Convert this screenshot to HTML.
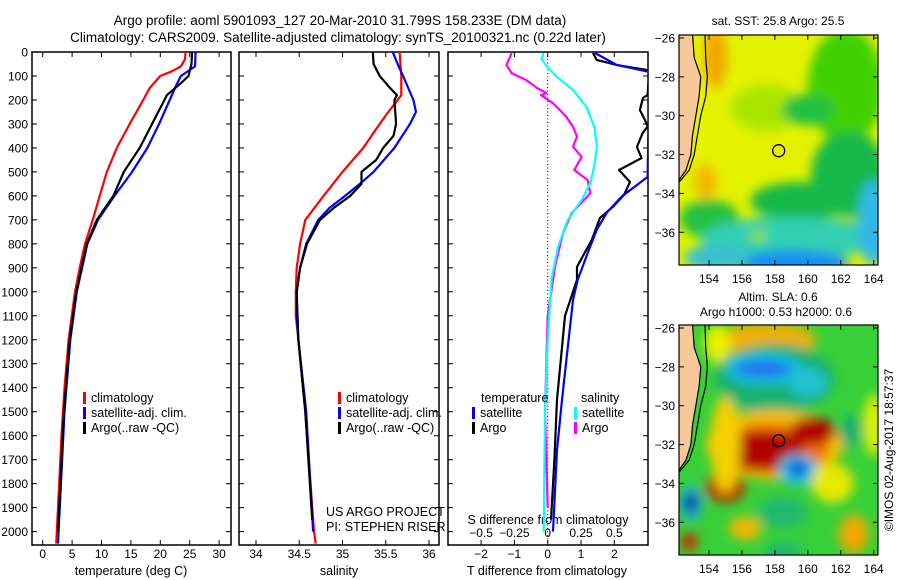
<!DOCTYPE html>
<html><head><meta charset="utf-8"><style>
html,body{margin:0;padding:0;background:#fff}
svg{display:block;font-family:"Liberation Sans",sans-serif}
text{fill:#000}
</style></head><body>
<svg id="fig" width="900" height="580" viewBox="0 0 900 580">
<defs>
<filter id="blur" filterUnits="userSpaceOnUse" x="600" y="0" width="300" height="580"><feGaussianBlur stdDeviation="5.5"/></filter>
<clipPath id="clipM1"><rect x="679" y="35" width="199" height="230"/></clipPath>
<clipPath id="clipM2"><rect x="679" y="325" width="199" height="230"/></clipPath>
<clipPath id="clipP1"><rect x="32" y="52" width="199" height="493"/></clipPath>
<clipPath id="clipP2"><rect x="239" y="52" width="200" height="493"/></clipPath>
<clipPath id="clipP3"><rect x="448" y="52" width="200" height="493"/></clipPath>
</defs>
<text x="340" y="25" font-size="13.5" text-anchor="middle">Argo profile: aoml 5901093_127 20-Mar-2010 31.799S 158.233E (DM data)</text>
<text x="338" y="42" font-size="13.5" text-anchor="middle">Climatology: CARS2009. Satellite-adjusted climatology: synTS_20100321.nc (0.22d later)</text>
<g id="g"></g>
</svg>
<script>
// ---- temperature profiles [depth, value]
const tempClimDepth = [0,30,60,80,100,150,200,300,400,500,600,700,800,900,1000,1200,1400,1600,1800,2000,2050];
const tempClimVal   = [24.3,24.2,23.5,22,20,18.2,17.1,14.8,12.6,10.9,9.7,8.5,7.2,6.3,5.5,4.4,3.7,3.2,2.8,2.4,2.3];
const tempSatDepth  = [0,60,100,150,200,300,400,500,600,700,800,1000,1200,1500,2000,2050];
const tempSatVal    = [26,25.9,23.5,22.5,21.6,19.8,17.8,15.2,12.2,9.4,7.6,5.8,4.7,3.7,2.7,2.6];
const tempArgoDepth = [0,50,100,130,180,200,300,400,500,600,700,800,1000,1200,1500,2000];
const tempArgoVal   = [25.4,25.3,24.8,23.5,21.1,20.7,18.6,16.5,13.8,12.0,9.2,7.5,5.7,4.6,3.6,2.6];
// ---- salinity profiles
const salClimDepth = [0,100,180,250,300,400,500,600,700,800,900,1000,1100,1200,1500,2000,2050];
const salClimVal   = [35.66,35.68,35.68,35.53,35.43,35.24,35.0,34.78,34.57,34.51,34.47,34.46,34.46,34.49,34.57,34.67,34.69];
const salSatDepth  = [0,60,100,200,250,300,400,500,550,600,650,700,800,900,1000,1100,1200,1500,2000];
const salSatVal    = [35.58,35.65,35.7,35.82,35.85,35.78,35.6,35.36,35.2,35.03,34.85,34.72,34.58,34.51,34.47,34.47,34.49,34.58,34.66];
const salArgoDepth = [0,50,100,150,180,200,300,350,400,450,500,550,600,650,700,800,900,1000,1200,1500,1950];
const salArgoVal   = [35.35,35.36,35.43,35.55,35.63,35.6,35.62,35.59,35.47,35.39,35.22,35.22,35.09,34.9,34.74,34.59,34.51,34.47,34.49,34.57,34.65];
// ---- differences
const dTSatDepth = [4,54,83,521,603,671,742,838,950,1034,1450,1660,2000];
const dTSatVal   = [1.42,2.07,3.05,3.0,2.22,1.77,1.47,1.2,0.9,0.76,0.43,0.28,0.16];
const dTArgoDepth = [4,33,54,75,80,179,192,242,283,311,338,396,442,492,542,596,645,692,784,896,950,1100,1450,1700,1950];
const dTArgoVal   = [1.36,1.47,2.07,2.97,3.05,3.0,2.86,2.77,2.92,3.0,2.85,2.68,2.82,2.14,2.47,2.29,1.96,1.57,1.32,0.88,0.88,0.52,0.28,0.2,0.1];
const dSSatDepth = [4,30,58,103,158,228,311,395,475,547,617,700,812,943,1200,1500,2000];
const dSSatVal   = [-0.033,-0.045,-0.008,0.068,0.19,0.29,0.35,0.37,0.35,0.32,0.255,0.15,0.078,0.03,0.0,-0.02,-0.03];
const dSArgoDepth = [4,54,88,117,150,171,180,213,270,311,353,395,437,492,534,589,672,755,895,1100,1500,1700,1900];
const dSArgoVal   = [-0.27,-0.31,-0.27,-0.16,-0.08,-0.01,-0.05,0.04,0.14,0.19,0.22,0.19,0.255,0.2,0.3,0.32,0.18,0.115,0.055,0.0,-0.02,-0.01,0.0];
// ---- ticks
const depthTicks = [0,100,200,300,400,500,600,700,800,900,1000,1100,1200,1300,1400,1500,1600,1700,1800,1900,2000];
const tempTicks = [0,5,10,15,20,25,30];
const salTicks = [34,34.5,35,35.5,36];
const salTickLabels = ["34","34.5","35","35.5","36"];
const dTTicks = [-2,-1,0,1,2];
const dSTicks = [-0.5,-0.25,0,0.25,0.5];
const dSTickLabels = ["\u22120.5","\u22120.25","0","0.25","0.5"];
const latTicks = [-26,-28,-30,-32,-34,-36];
const lonTicks = [154,156,158,160,162,164];

const NS="http://www.w3.org/2000/svg";
const G=document.getElementById('g');
function el(tag,attrs,parent,txt){const e=document.createElementNS(NS,tag);for(const k in attrs)e.setAttribute(k,attrs[k]);if(txt!==undefined)e.textContent=txt;(parent||G).appendChild(e);return e;}

const yTop=52,yBot=545;
const yD=d=>52+d*0.2398;
const panels=[
 {x0:32,x1:231,f:v=>42.7+v*5.88,clip:'clipP1',name:'temperature'},
 {x0:239,x1:439,f:v=>256+(v-34)*86.5,clip:'clipP2',name:'salinity'},
 {x0:448,x1:648,f:v=>547.7+v*33.3,clip:'clipP3',name:'difference'}
];
const fS=v=>547.7+v*133.2;

panels.forEach((p,i)=>{
  const fr=el('rect',{x:p.x0,y:yTop,width:p.x1-p.x0,height:yBot-yTop,fill:'none',stroke:'#000','stroke-width':1.5});
  
  
  depthTicks.forEach(d=>{
    const y=yD(d);
    el('line',{x1:p.x0,x2:p.x0+5,y1:y,y2:y,stroke:'#000','stroke-width':1});
    el('line',{x1:p.x1-5,x2:p.x1,y1:y,y2:y,stroke:'#000','stroke-width':1});
    if(i===0){
      const t=el('text',{x:28,y:y+4.5,'font-size':12,'text-anchor':'end'},G,String(d));
      
      
    }
  });
});
function xTicks(p,ticks,labels,f,ly){
  ticks.forEach((v,k)=>{
    const x=f(v);
    el('line',{x1:x,x2:x,y1:yBot,y2:yBot-5,stroke:'#000','stroke-width':1});
    el('line',{x1:x,x2:x,y1:yTop,y2:yTop+5,stroke:'#000','stroke-width':1});
    const t=el('text',{x:x,y:ly,'font-size':12,'text-anchor':'middle'},G,labels[k]);
    
    
  });
}
xTicks(panels[0],tempTicks,tempTicks.map(String),panels[0].f,558);
xTicks(panels[1],salTicks,salTickLabels,panels[1].f,558);
xTicks(panels[2],dTTicks,dTTicks.map(v=>v<0?'\u2212'+(-v):String(v)),panels[2].f,558);
dSTicks.forEach((v,k)=>{
  const t=el('text',{x:fS(v),y:537,'font-size':12,'text-anchor':'middle'},G,dSTickLabels[k]);
  
  
});
[[131,'temperature (deg C)','temperature-axis-title'],[339,'salinity','salinity-axis-title'],[547,'T difference from climatology','t-diff-axis-title']].forEach(a=>{
  const t=el('text',{x:a[0],y:575,'font-size':12.5,'text-anchor':'middle'},G,a[1]);
  
  
});
const sdt=el('text',{x:548,y:524,'font-size':12.5,'text-anchor':'middle'},G,'S difference from climatology');



const zl=el('line',{x1:547.7,x2:547.7,y1:yTop,y2:yBot,stroke:'#000','stroke-width':1,'stroke-dasharray':'1,2.5'});



function series(depths,vals,f,color,clip,name){
  const pts=depths.map((d,k)=>f(vals[k]).toFixed(1)+','+yD(d).toFixed(1)).join(' ');
  const pl=el('polyline',{points:pts,fill:'none',stroke:color,'stroke-width':2.2,'stroke-linejoin':'round','clip-path':'url(#'+clip+')'});
  
  
}
series(tempClimDepth,tempClimVal,panels[0].f,'#ff0000','clipP1','temp-climatology-line');
series(tempSatDepth,tempSatVal,panels[0].f,'#0000ff','clipP1','temp-satellite-line');
series(tempArgoDepth,tempArgoVal,panels[0].f,'#000000','clipP1','temp-argo-line');
series(salClimDepth,salClimVal,panels[1].f,'#ff0000','clipP2','sal-climatology-line');
series(salSatDepth,salSatVal,panels[1].f,'#0000ff','clipP2','sal-satellite-line');
series(salArgoDepth,salArgoVal,panels[1].f,'#000000','clipP2','sal-argo-line');
series(dSArgoDepth,dSArgoVal,fS,'#ff00ff','clipP3','s-diff-argo-line');
series(dSSatDepth,dSSatVal,fS,'#00ffff','clipP3','s-diff-satellite-line');
series(dTArgoDepth,dTArgoVal,panels[2].f,'#000000','clipP3','t-diff-argo-line');
series(dTSatDepth,dTSatVal,panels[2].f,'#0000ff','clipP3','t-diff-satellite-line');

function legItem(x,y,color,label,name){
  const r=el('rect',{x:x,y:y-10,width:3,height:12,fill:color});
  
  
  const t=el('text',{x:x+8,y:y,'font-size':12.5},G,label);
  
  
}
[[83,'p1'],[338,'p2']].forEach(a=>{
  legItem(a[0],402,'#ff0000','climatology','legend-climatology-'+a[1]);
  legItem(a[0],417,'#0000ff','satellite-adj. clim.','legend-satellite-'+a[1]);
  legItem(a[0],432,'#000000','Argo(..raw -QC)','legend-argo-'+a[1]);
});
const lt1=el('text',{x:481,y:402,'font-size':12.5},G,'temperature');


const lt2=el('text',{x:581,y:402,'font-size':12.5},G,'salinity');


legItem(472,417,'#0000ff','satellite','legend-t-satellite');
legItem(472,432,'#000000','Argo','legend-t-argo');
legItem(574,417,'#00ffff','satellite','legend-s-satellite');
legItem(574,432,'#ff00ff','Argo','legend-s-argo');
const cr1=el('text',{x:326,y:516,'font-size':12.5},G,'US ARGO PROJECT');


const cr2=el('text',{x:326,y:531,'font-size':12.5},G,'PI: STEPHEN RISER');



// ---- maps
const lonX=l=>709+(l-154)*16.47;
const latY=(l,off)=>off+38+(-26-l)*19.43;
const map1Base='#e4f200';
const map1Blobs=[
 [157.5,-29.6,2.2,1.2,'#a8e600'],[162.3,-28.5,2.3,3,'#40d000'],[160,-29.7,1.6,0.8,'#20c040'],
 [154.4,-27,0.7,1.6,'#f2a400'],[153.8,-33.4,0.7,0.9,'#f4b800'],
 [162.5,-33,2.3,2.2,'#18b848'],[159.5,-34.4,3,1,'#18b848'],[154,-35.3,1.8,1,'#28c040'],
 [159,-36.3,5.5,1.1,'#30d0b0'],[164,-35.5,1,2.2,'#30b8e8'],[159,-37.6,3.5,0.7,'#1890f0'],[154.5,-37.3,2,0.7,'#38c0d0'],
 [157,-36.2,0.5,0.3,'#90e000']
];
const map2Base='#38d038';
const map2Blobs=[
 [157.5,-26.6,3,0.9,'#f0b000'],[154.5,-26.8,0.8,1,'#e8f000'],
 [158,-28.6,3.6,1.8,'#18b070'],[157.3,-28.1,2.3,0.8,'#10c8e8'],[157.3,-28.1,1.8,0.45,'#2070f0'],[160,-28.8,1.2,0.8,'#20c0d0'],
 [158,-32,4.2,1.8,'#f0c000'],[157.8,-32.2,3.5,1.3,'#f07000'],[157.3,-32.3,2.5,1.0,'#b00000'],[160.3,-31.3,1.4,0.7,'#b00000'],
 [155,-34.2,1.2,0.8,'#b83000'],[155,-32,0.9,2.5,'#f4d000'],
 [159.4,-33.3,1.2,0.8,'#20c0e0'],[159.4,-33.2,0.6,0.4,'#1050e0'],
 [152.9,-35,0.7,0.9,'#20b0e0'],[152.9,-35,0.4,0.5,'#001c9c'],[152.8,-37,0.5,0.5,'#c03000'],
 [162.8,-36.6,0.9,1,'#f0a800'],[161.5,-34,1.3,1,'#e8e800'],[164,-31,0.6,1.6,'#e0f000'],[156.2,-36.3,1,0.6,'#f0b800'],
 [162.6,-31.3,0.7,0.8,'#10b070'],[158.5,-35.5,1.5,0.8,'#20b870'],[158.5,-37.5,1.2,0.5,'#20b870']
];
const coast=[[152.1,-25.8],[153.0,-25.8],[153.1,-27],[153.5,-28],[153.4,-29],[153.2,-30],[153.0,-31],[152.9,-32],[152.6,-32.8],[152.1,-33.4]];
const shelf=[[153.76,-25.85],[153.8,-27],[153.9,-28],[153.8,-29],[153.5,-30],[153.3,-31],[153.1,-32],[152.8,-32.8],[152.1,-33.5]];

function drawMap(off,base,blobs,clip,name,title1,title2){
  const g=el('g',{'clip-path':'url(#'+clip+')'});
  
  
  el('rect',{x:679,y:off+35,width:199,height:230,fill:base},g);
  const bg=el('g',{filter:'url(#blur)'},g);
  blobs.forEach(b=>{
    el('ellipse',{cx:lonX(b[0]),cy:latY(b[1],off),rx:b[2]*16.47,ry:b[3]*19.43,fill:b[4]},bg);
  });
  const sp=shelf.map(p=>lonX(p[0])+','+latY(p[1],off)).join(' ');
  el('polyline',{points:sp,fill:'none',stroke:'#000','stroke-width':1.2},g);
  const cp=coast.map(p=>lonX(p[0])+','+latY(p[1],off)).join(' ');
  const land=el('polygon',{points:cp,fill:'#f8c898',stroke:'#000','stroke-width':1.2},g);
  
  
  const mk=el('circle',{cx:lonX(158.23),cy:latY(-31.8,off),r:6,fill:'none',stroke:'#000','stroke-width':1.3},g);
  
  
  el('rect',{x:679,y:off+35,width:199,height:230,fill:'none',stroke:'#000','stroke-width':1.2});
  latTicks.forEach(l=>{
    const y=latY(l,off);
    el('line',{x1:679,x2:684,y1:y,y2:y,stroke:'#000'});
    el('line',{x1:873,x2:878,y1:y,y2:y,stroke:'#000'});
    const t=el('text',{x:675,y:y+4.5,'font-size':12,'text-anchor':'end'},G,'\u2212'+(-l));
    
    
  });
  lonTicks.forEach(l=>{
    const x=lonX(l);
    el('line',{x1:x,x2:x,y1:off+35,y2:off+40,stroke:'#000'});
    el('line',{x1:x,x2:x,y1:off+260,y2:off+265,stroke:'#000'});
    const t=el('text',{x:x,y:off+283,'font-size':12,'text-anchor':'middle'},G,String(l));
    
    
  });
  if(title2){
    const a=el('text',{x:778,y:off+11,'font-size':12,'text-anchor':'middle'},G,title1);
    
    
    const b=el('text',{x:776,y:off+26,'font-size':12,'text-anchor':'middle'},G,title2);
    
    
  } else {
    const a=el('text',{x:778,y:off+25,'font-size':12,'text-anchor':'middle'},G,title1);
    
    
  }
}
drawMap(0,map1Base,map1Blobs,'clipM1','sst-map','sat. SST: 25.8 Argo: 25.5');
drawMap(290,map2Base,map2Blobs,'clipM2','sla-map','Altim. SLA: 0.6','Argo h1000: 0.53 h2000: 0.6');
const imos=el('text',{x:0,y:0,'font-size':12,'text-anchor':'middle',transform:'translate(893,450) rotate(-90)'},G,'\u00a9IMOS 02-Aug-2017 18:57:37');


</script>
</body></html>
